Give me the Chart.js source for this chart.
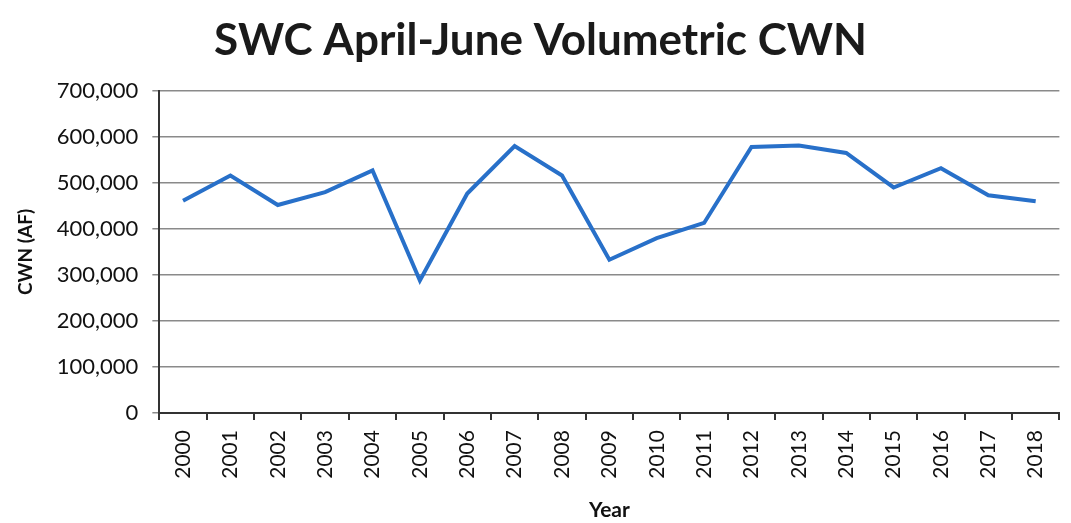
<!DOCTYPE html>
<html>
<head>
<meta charset="utf-8">
<script src="https://cdn.jsdelivr.net/npm/chart.js@4"></script>
<style>
  html, body { margin: 0; padding: 0; background: #fff; }
  #wrap { width: 1071px; height: 523px; }
</style>
</head>
<body>
<div id="wrap"><canvas id="cwnChart" width="1071" height="523"></canvas></div>
<script>
// data
const years = ['2000', '2001', '2002', '2003', '2004', '2005', '2006', '2007', '2008', '2009',
               '2010', '2011', '2012', '2013', '2014', '2015', '2016', '2017', '2018'];
const cwnValues = [461000, 516000, 452000, 480000, 527000, 288000, 477000, 580000, 516000, 333000,
                   380000, 413000, 578000, 581000, 565000, 490000, 532000, 473000, 460000];
const yTicks = [0, 100000, 200000, 300000, 400000, 500000, 600000, 700000];

const fontFamily = 'Lato, "Open Sans", sans-serif';

const ctx = document.getElementById('cwnChart').getContext('2d');
new Chart(ctx, {
    type: 'line',
    data: {
        labels: years,
        datasets: [{
            label: 'CWN',
            data: cwnValues,
            borderColor: '#2870c9',
            borderWidth: 4,
            pointRadius: 0,
            tension: 0,
            fill: false
        }]
    },
    options: {
        responsive: false,
        animation: false,
        layout: { padding: { left: 14, right: 4, top: 4, bottom: 0 } },
        plugins: {
            legend: { display: false },
            tooltip: { enabled: false },
            title: {
                display: true,
                text: 'SWC April-June Volumetric CWN',
                color: '#1a1a1a',
                font: { family: fontFamily, size: 44, weight: 'bold' },
                padding: { top: 10, bottom: 24 }
            }
        },
        scales: {
            x: {
                offset: true,
                grid: {
                    display: true,
                    drawOnChartArea: false,
                    drawTicks: true,
                    offset: true,
                    tickLength: 7,
                    color: '#333',
                    lineWidth: 2
                },
                border: { display: true, color: '#333', width: 2 },
                ticks: {
                    color: '#111',
                    maxRotation: 90,
                    minRotation: 90,
                    font: { family: fontFamily, size: 21 },
                    padding: 10
                },
                title: {
                    display: true,
                    text: 'Year',
                    color: '#111',
                    font: { family: fontFamily, size: 21, weight: 'bold' },
                    padding: { top: 9, bottom: 0 }
                }
            },
            y: {
                min: 0,
                max: 700000,
                afterBuildTicks: function(axis) {
                    axis.ticks = yTicks.map(v => ({ value: v }));
                },
                grid: {
                    color: '#8a8a8a',
                    lineWidth: 1.5,
                    tickLength: 7
                },
                border: { display: true, color: '#333', width: 2 },
                ticks: {
                    color: '#111',
                    font: { family: fontFamily, size: 22 },
                    padding: 14,
                    callback: function(value) {
                        return value.toLocaleString('en-US');
                    }
                },
                title: {
                    display: true,
                    text: 'CWN (AF)',
                    color: '#111',
                    font: { family: fontFamily, size: 19, weight: 'bold' },
                    padding: { top: 0, bottom: 6 }
                }
            }
        }
    }
});
</script>
</body>
</html>
